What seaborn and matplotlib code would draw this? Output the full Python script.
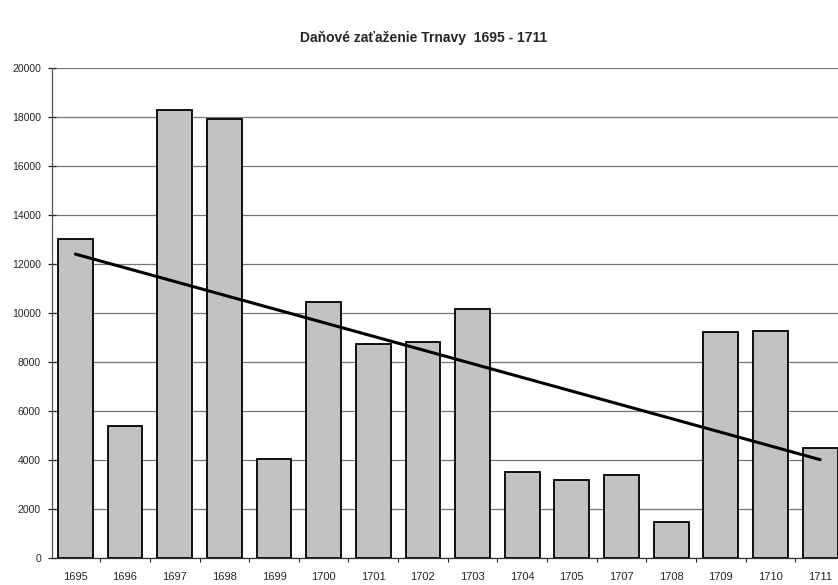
import seaborn as sns
import matplotlib.pyplot as plt
import pandas as pd
import numpy as np

# Data (1706 is not in the original)
years = ['1695', '1696', '1697', '1698', '1699', '1700', '1701', '1702',
         '1703', '1704', '1705', '1707', '1708', '1709', '1710', '1711']
tax = [13000, 5400, 18300, 17900, 4050, 10450, 8730, 8820,
       10160, 3510, 3180, 3390, 1470, 9220, 9270, 4490]
y_ticks = [0, 2000, 4000, 6000, 8000, 10000, 12000, 14000, 16000, 18000, 20000]

df = pd.DataFrame({'rok': years, 'dane': tax})
df['idx'] = np.arange(len(df))

sns.set_style('white')
plt.rcParams['font.family'] = ['Liberation Sans', 'DejaVu Sans']

fig = plt.figure(figsize=(8.38, 5.85), dpi=100)
ax = fig.add_axes([0.0621, 0.0462, 0.9379, 0.8376])

sns.barplot(data=df, x='rok', y='dane', color='#c2c2c2', edgecolor='black',
            linewidth=1.3, width=0.7, saturation=1, ax=ax, zorder=2)

# linear trend line
sns.regplot(data=df, x='idx', y='dane', ci=None, scatter=False, truncate=True,
            line_kws={'color': 'black', 'linewidth': 2.2, 'zorder': 3}, ax=ax)

ax.set_ylim(0, 20000)
ax.set_xlim(-0.47, 15.36)
ax.set_yticks(y_ticks)
ax.set_yticklabels([str(v) for v in y_ticks], fontsize=7.5)
ax.set_xticks(range(len(years)))
ax.set_xticklabels(years, fontsize=8)
ax.set_xticks(np.arange(0.5, len(years) - 1, 1), minor=True)
ax.set_xlabel('')
ax.set_ylabel('')

ax.yaxis.grid(True, color='#777777', linewidth=0.9)
ax.set_axisbelow(True)
ax.tick_params(axis='y', direction='inout', length=6, width=0.9, pad=5, left=True)
ax.tick_params(axis='x', which='major', length=0, pad=10)
ax.tick_params(axis='x', which='minor', direction='out', length=3, width=0.8, bottom=True)

for side in ['top', 'right']:
    ax.spines[side].set_visible(False)
ax.spines['left'].set_color('#555555')
ax.spines['left'].set_linewidth(0.9)
ax.spines['bottom'].set_color('#333333')
ax.spines['bottom'].set_linewidth(0.9)

fig.text(0.505, 0.935, 'Daňové zaťaženie Trnavy  1695 - 1711', ha='center',
         va='center', fontsize=10, fontweight='bold')

fig.savefig('out.png', dpi=100)
